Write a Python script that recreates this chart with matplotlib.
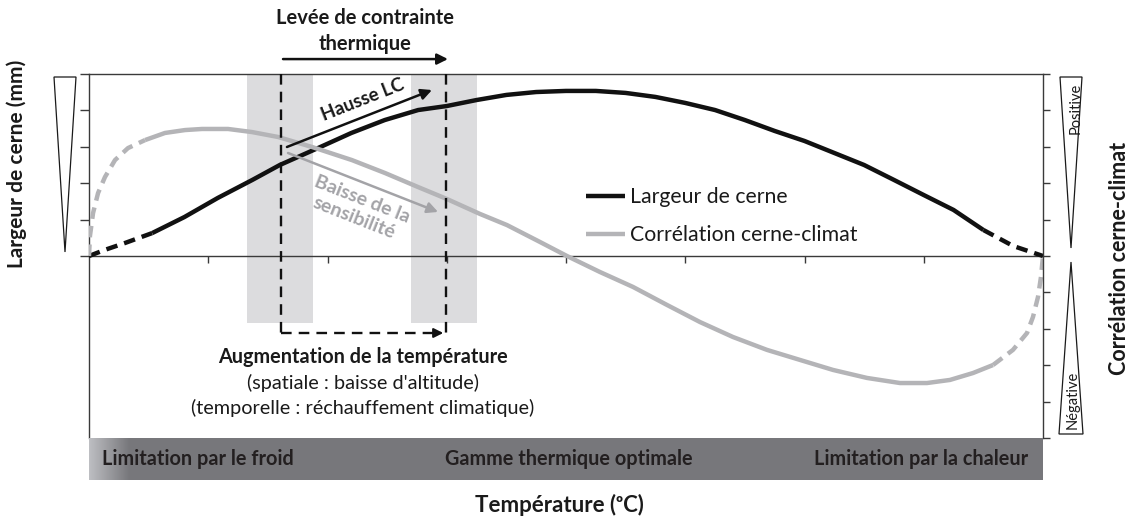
import numpy as np
import matplotlib.pyplot as plt
from matplotlib.patches import Polygon, Rectangle
from matplotlib.colors import LinearSegmentedColormap

plt.rcParams['font.family'] = ['Lato', 'DejaVu Sans']

W, H = 1138, 520

# Largeur de cerne (courbe noire)
temp_largeur = [0, 0.13, 0.3, 0.53, 0.8, 1.08, 1.37, 1.6, 1.92, 2.2, 2.48, 2.76, 3.0, 3.25,
                3.5, 3.75, 4.0, 4.25, 4.5, 4.75, 5.0, 5.25, 5.5, 5.75, 6.0, 6.25, 6.5, 6.75,
                7.0, 7.25, 7.5, 7.75, 8.0]
largeur = [0, 0.033, 0.071, 0.126, 0.214, 0.319, 0.418, 0.5, 0.593, 0.676, 0.747, 0.802,
           0.824, 0.857, 0.885, 0.901, 0.907, 0.907, 0.896, 0.874, 0.841, 0.802, 0.747,
           0.687, 0.632, 0.566, 0.5, 0.418, 0.335, 0.253, 0.143, 0.055, 0]

# Corrélation cerne-climat (courbe grise)
temp_corr = [0, 0.008, 0.034, 0.076, 0.134, 0.218, 0.327, 0.47, 0.637, 0.805, 0.948, 1.166,
             1.367, 1.585, 1.87, 2.205, 2.482, 2.759, 3.002, 3.279, 3.505, 3.782, 4.008,
             4.285, 4.562, 4.847, 5.124, 5.4, 5.686, 5.962, 6.239, 6.524, 6.801, 7.027,
             7.22, 7.413, 7.581, 7.748, 7.866, 7.916, 7.958, 7.983, 8.0]
correlation = [0, 0.110, 0.236, 0.346, 0.434, 0.527, 0.593, 0.637, 0.676, 0.692, 0.698,
               0.698, 0.681, 0.654, 0.599, 0.527, 0.456, 0.379, 0.313, 0.231, 0.170, 0.077,
               0, -0.088, -0.170, -0.269, -0.363, -0.445, -0.516, -0.571, -0.626, -0.670,
               -0.698, -0.698, -0.681, -0.643, -0.599, -0.516, -0.423, -0.335, -0.225,
               -0.115, 0]

# zones grisées (transition thermique)
zones = [(1.325, 1.878), (2.700, 3.254)]

# bandeau du bas
bandeau = ['Limitation par le froid', 'Gamme thermique optimale', 'Limitation par la chaleur']

NOIR = '#111111'
GRIS = '#b4b4b7'
GRIS_TXT = '#a3a3a7'
AXE = '#3a3a3a'
TXT = '#1a1a1a'


def fx(px):
    return px / W


def fy(py):
    return 1 - py / H


def courbe(ax, x, y, lo, hi, color, label):
    x = np.array(x)
    y = np.array(y)
    dash = (0, (2.6, 1.6))
    m = x <= lo
    ax.plot(x[m], y[m], color=color, lw=3.2, ls=dash, dash_capstyle='butt', zorder=4)
    m = (x >= lo) & (x <= hi)
    ax.plot(x[m], y[m], color=color, lw=3.2, solid_capstyle='butt',
            solid_joinstyle='round', zorder=4, label=label)
    m = x >= hi
    ax.plot(x[m], y[m], color=color, lw=3.2, ls=dash, dash_capstyle='butt', zorder=4)


fig = plt.figure(figsize=(W / 100, H / 100), dpi=100)
ax = fig.add_axes([fx(89), fy(438), fx(1043) - fx(89), fy(74) - fy(438)])
ax.set_xlim(0, 8)
ax.set_ylim(-1, 1)

for s in ax.spines.values():
    s.set_color(AXE)
    s.set_linewidth(1.0)
ax.spines['bottom'].set_position(('data', 0))
ax.spines['right'].set_visible(False)
ax.set_xticks(np.arange(1, 8))
ax.set_yticks(np.arange(0, 1.01, 0.2))
ax.tick_params(axis='x', direction='out', length=5, width=1, color=AXE, labelbottom=False)
ax.tick_params(axis='y', direction='out', length=6.5, width=1, color=AXE, labelleft=False)

ax2 = ax.twinx()
ax2.set_ylim(-1, 1)
for k in ['left', 'top', 'bottom']:
    ax2.spines[k].set_visible(False)
ax2.spines['right'].set_color(AXE)
ax2.spines['right'].set_linewidth(1.0)
ax2.set_yticks(np.arange(-1, 1.01, 0.2))
ax2.tick_params(axis='y', direction='out', length=5, width=1, color=AXE, labelright=False)

# zones grisées
for x0, x1 in zones:
    ax.add_patch(Rectangle((x0, -0.368), x1 - x0, 1.368, facecolor='#dcdcde',
                           edgecolor='none', zorder=1))

courbe(ax, temp_largeur, largeur, 0.53, 7.5, NOIR, 'Largeur de cerne')
courbe(ax, temp_corr, correlation, 0.47, 7.581, GRIS, 'Corrélation cerne-climat')

# lignes pointillées verticales
for xv in [1.610, 2.994]:
    ax.plot([xv, xv], [1, -0.423], color=NOIR, lw=1.7, ls=(0, (4.5, 3)), zorder=5)
ax.plot([1.610, 2.95], [-0.423, -0.423], color=NOIR, lw=1.7, ls=(0, (4.5, 3)), zorder=5)
ax.annotate('', xy=(2.994, -0.423), xytext=(2.90, -0.423),
            arrowprops=dict(arrowstyle='-|>', color=NOIR, lw=1.5, mutation_scale=14))

# flèche du haut
ax.annotate('', xy=(3.01, 1.082), xytext=(1.627, 1.082), annotation_clip=False,
            arrowprops=dict(arrowstyle='-|>', color=NOIR, lw=1.8, mutation_scale=16,
                            shrinkA=0, shrinkB=0))
ax.text(2.314, 1.236, 'Levée de contrainte\nthermique', ha='center', va='center',
        fontsize=14.5, fontweight='bold', color=TXT, linespacing=1.35, clip_on=False)

# flèches obliques
ax.annotate('', xy=(2.876, 0.912), xytext=(1.66, 0.599),
            arrowprops=dict(arrowstyle='-|>', color=NOIR, lw=1.8, mutation_scale=16,
                            shrinkA=0, shrinkB=0), zorder=6)
ax.text(2.298, 0.857, 'Hausse LC', rotation=21.5, ha='center', va='center',
        fontsize=13.5, fontweight='bold', color=TXT)
ax.annotate('', xy=(2.927, 0.242), xytext=(1.669, 0.566),
            arrowprops=dict(arrowstyle='-|>', color=GRIS_TXT, lw=1.8, mutation_scale=16,
                            shrinkA=0, shrinkB=0), zorder=6)
ax.text(2.256, 0.262, 'Baisse de la\nsensibilité', rotation=-21.5, ha='center', va='center',
        fontsize=14, fontweight='bold', color=GRIS_TXT, linespacing=1.2)

# texte du bas
ax.text(2.298, -0.555, 'Augmentation de la température', ha='center', va='center',
        fontsize=14.3, fontweight='bold', color=TXT)
ax.text(2.298, -0.698, "(spatiale : baisse d'altitude)", ha='center', va='center',
        fontsize=14.3, color=TXT)
ax.text(2.298, -0.835, '(temporelle : réchauffement climatique)', ha='center', va='center',
        fontsize=14.3, color=TXT)

leg = ax.legend(loc='upper left', bbox_to_anchor=(fx(586), fy(187)),
                bbox_transform=fig.transFigure, frameon=False, fontsize=15.3,
                handlelength=1.85, handletextpad=0.22, labelspacing=0.85,
                borderpad=0, borderaxespad=0)
for t in leg.get_texts():
    t.set_color(TXT)

# bandeau dégradé
bax = fig.add_axes([fx(89), fy(480), fx(1043) - fx(89), fy(438) - fy(480)])
cmap = LinearSegmentedColormap.from_list('bandeau', ['#bdbec2', '#77777b'])
grad = np.clip(np.linspace(0, 954 / 40, 954), 0, 1)
bax.imshow(grad[None, :], aspect='auto', cmap=cmap, extent=[0, 1, 0, 1])
bax.set_axis_off()
bax.text((102 - 89) / 954, 0.5, bandeau[0], ha='left', va='center', fontsize=14.3,
         fontweight='bold', color='#231f20')
bax.text((569 - 89) / 954, 0.5, bandeau[1], ha='center', va='center', fontsize=14.3,
         fontweight='bold', color='#231f20')
bax.text((1028 - 89) / 954, 0.5, bandeau[2], ha='right', va='center', fontsize=14.3,
         fontweight='bold', color='#231f20')

# titres des axes
fig.text(fx(17), fy(164), 'Largeur de cerne (mm)', rotation=90, ha='center', va='center',
         fontsize=15, fontweight='bold', color=TXT)
fig.text(fx(1120), fy(258), 'Corrélation cerne-climat', rotation=90, ha='center',
         va='center', fontsize=15.5, fontweight='bold', color=TXT)
fig.text(fx(559), fy(505), 'Température (ᵒC)', ha='center', va='center',
         fontsize=16, fontweight='bold', color=TXT)

# triangles
tri = [[(54, 77), (76, 77), (65, 252)],
       [(1060, 77), (1082, 77), (1071, 248)],
       [(1071, 262), (1059, 434), (1083, 434)]]
for pts in tri:
    fig.add_artist(Polygon([(fx(a), fy(b)) for a, b in pts], closed=True,
                           facecolor='white', edgecolor=TXT, lw=0.9,
                           transform=fig.transFigure))
fig.text(fx(1076), fy(108), 'Positive', rotation=90, ha='center', va='center',
         fontsize=10.5, color=TXT)
fig.text(fx(1073), fy(400), 'Négative', rotation=90, ha='center', va='center',
         fontsize=10.5, color=TXT)

fig.savefig('out.png', dpi=100)
